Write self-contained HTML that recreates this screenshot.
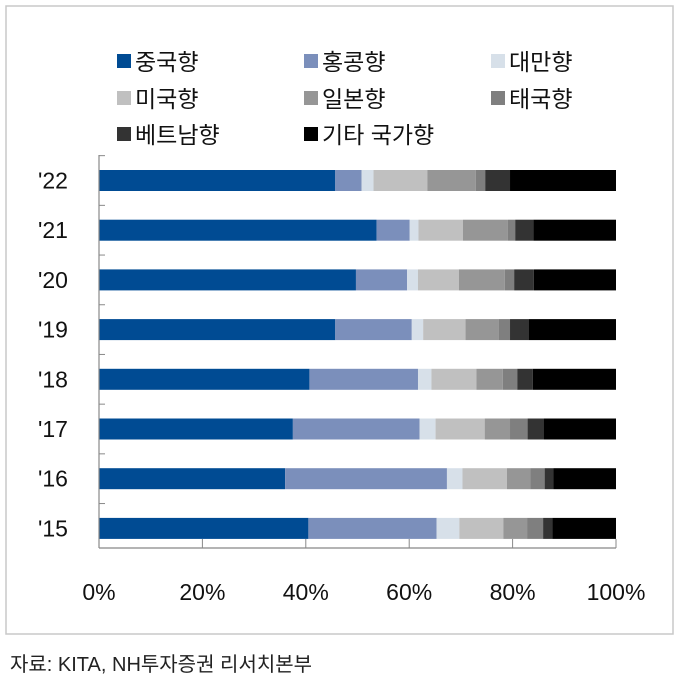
<!DOCTYPE html>
<html><head><meta charset="utf-8"><style>
body{margin:0;background:#fff;width:680px;height:686px;overflow:hidden;font-family:"Liberation Sans","Noto Sans CJK KR",sans-serif}
</style></head><body>
<svg width="680" height="686" xmlns="http://www.w3.org/2000/svg" id="svg" font-family="Liberation Sans, Noto Sans CJK KR, sans-serif">
<rect x="6" y="6" width="667" height="628" fill="none" stroke="#c8c8c8" stroke-width="1.5"/>
<g id="legend"></g>
<g id="bars"></g>
<g id="axes"></g>
<text x="10" y="671" font-size="20" fill="#222">자료: KITA, NH투자증권 리서치본부</text>
</svg>
<script>
const years = ["'22","'21","'20","'19","'18","'17","'16","'15"];
const seriesNames = ["중국향","홍콩향","대만향","미국향","일본향","태국향","베트남향","기타 국가향"];
const china   = [45.7,53.7,49.7,45.7,40.7,37.5,36.0,40.5];
const hongkong= [5.1,6.4,9.9,14.8,21.0,24.5,31.3,24.8];
const taiwan  = [2.3,1.7,2.1,2.2,2.6,3.1,3.0,4.4];
const usa     = [10.4,8.6,7.9,8.2,8.7,9.5,8.6,8.5];
const japan   = [9.4,8.7,8.9,6.4,5.1,4.9,4.5,4.6];
const thailand= [1.8,1.4,1.8,2.2,2.8,3.4,2.8,3.1];
const vietnam = [4.8,3.5,3.8,3.6,3.0,3.1,1.7,1.8];
const others  = [20.5,16.0,15.9,16.9,16.1,14.0,12.1,12.3];
const tickLabels = ["0%","20%","40%","60%","80%","100%"];
const tickValues = [0,20,40,60,80,100];

const colors = ["#004b93","#7b8fbb","#d7e0e9","#c0c0c0","#969696","#7f7f7f","#333333","#000000"];
const series = [china,hongkong,taiwan,usa,japan,thailand,vietnam,others];
const NS="http://www.w3.org/2000/svg";
const x0=99,x1=616,yTop=155,step=49.7,barH=21,firstBar=170;
const xs=v=>x0+(x1-x0)*v/100;
const yb=i=>firstBar+i*step;
function mk(tag,attrs,parent){const e=document.createElementNS(NS,tag);for(const k in attrs)e.setAttribute(k,attrs[k]);parent.appendChild(e);return e;}
const bars=document.getElementById('bars'),axes=document.getElementById('axes'),legend=document.getElementById('legend');
years.forEach((yr,i)=>{
  let cum=0;
  series.forEach((s,j)=>{
    const r=mk('rect',{x:xs(cum),y:yb(i),width:Math.max(0,xs(cum+s[i])-xs(cum)),height:barH,fill:colors[j]},bars);
    
    
    cum+=s[i];
  });
  const t=mk('text',{x:38,y:yb(i)+barH/2+8,'font-size':23,fill:'#111'},axes);
  t.textContent=yr;
  
  
});
// axes lines
const yBase=548;
let l=mk('line',{x1:x0,y1:yTop,x2:x0,y2:yBase,stroke:'#888','stroke-width':1.2},axes);


for(let i=0;i<years.length;i++){
  const yy=yb(i)-(step-barH)/2;
  const t=mk('line',{x1:x0,y1:yy,x2:x0+6,y2:yy,stroke:'#888','stroke-width':1},axes);
  
  
}
l=mk('line',{x1:x0,y1:yBase,x2:x1,y2:yBase,stroke:'#888','stroke-width':1.2},axes);


tickValues.forEach((v,i)=>{
  const t=mk('line',{x1:xs(v),y1:yBase-9,x2:xs(v),y2:yBase,stroke:'#888','stroke-width':1},axes);
  
  
  const tx=mk('text',{x:xs(v),y:600,'font-size':23,'text-anchor':'middle',fill:'#111'},axes);
  tx.textContent=tickLabels[i];
  
  
});
// legend
const lx=[117,304,491],ly=[62,99,135];
seriesNames.forEach((n,i)=>{
  const cx=lx[i%3],cy=ly[Math.floor(i/3)];
  const g=mk('g',{},legend);
  
  
  mk('rect',{x:cx,y:cy-8,width:14,height:14,fill:colors[i]},g);
  const t=mk('text',{x:cx+18,y:cy+8,'font-size':23,fill:'#111'},g);
  t.textContent=n;
});
</script>
</body></html>
